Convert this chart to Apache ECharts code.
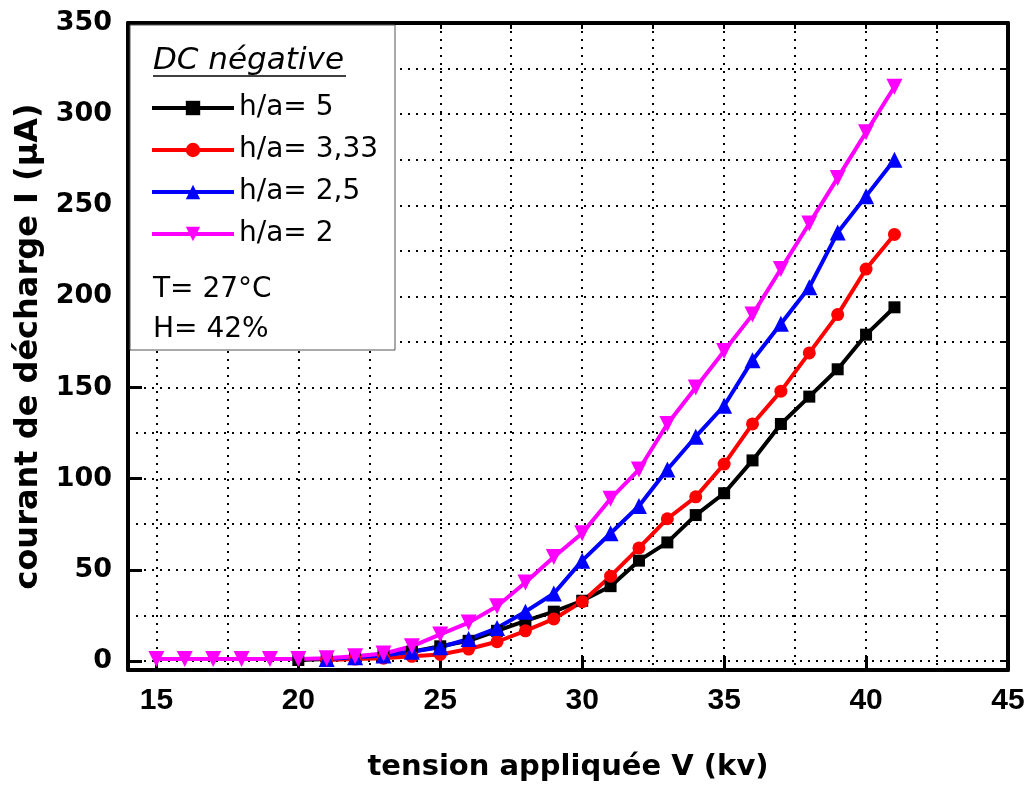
<!DOCTYPE html>
<html><head><meta charset="utf-8">
<script src="https://cdn.jsdelivr.net/npm/echarts@6/dist/echarts.min.js"></script>
<style>html,body{margin:0;padding:0;background:#fff}#c{width:1030px;height:787px}</style>
</head><body><div id="c"></div>
<script>
// Applied voltage (kV)
const voltage = [15,16,17,18,19,20,21,22,23,24,25,26,27,28,29,30,31,32,33,34,35,36,37,38,39,40,41];
// Discharge current (µA) per h/a ratio (null = not measured)
const ha5   = [null,null,null,null,null,0.5,1,2,3.5,5,8,11,16.5,22,27,33,41,55,65,80,92,110,130,145,160,179,194];
const ha333 = [null,null,null,null,null,null,0.5,1,1.5,2.5,3.5,6.5,10.5,16.5,23,32.5,46.5,62,78,90,108,130,148,169,190,215,234];
const ha25  = [null,null,null,null,null,null,1,2,3,5,7.5,12,18,27,37,55,70,85,105,123,140,165,185,205,235,255,275];
const ha2   = [1,1,1,1,1,1,1.5,2.5,4,8,14.5,21,30,43,57,70,89,105,130,150,170,190,215,240,265,290,315];

const seriesNames = ['h/a= 5','h/a= 3,33','h/a= 2,5','h/a= 2'];
const xMajor = [15,20,25,30,35,40,45];
const xMinor = [15,17.5,20,22.5,25,27.5,30,32.5,35,37.5,40,42.5];
const yMajor = [0,50,100,150,200,250,300,350];
const yMinor = [0,25,50,75,100,125,150,175,200,225,250,275,300,325];

function pairs(arr){
  const out = [];
  arr.forEach((v,i)=>{ if(v!==null) out.push([voltage[i], v]); });
  return out;
}

const chart = echarts.init(document.getElementById('c'), null, {renderer:'canvas'});
const dotted = {type:[2,6], color:'#000', width:2};
const mkSeries = (name, data, color, symbol, rot, size) => ({
  name, type:'line', data: pairs(data), xAxisIndex:0, yAxisIndex:0,
  symbol, symbolRotate: rot, symbolSize: size,
  lineStyle:{color, width:4}, itemStyle:{color}, z: 3
});

chart.setOption({
  animation:false,
  backgroundColor:'#fff',
  grid:{left:128, right:22, top:23, bottom:115},
  xAxis:[
    {type:'value', position:'bottom', min:14, max:45,
     name:'tension appliquée V (kv)', nameLocation:'middle', nameGap:83,
     nameTextStyle:{fontFamily:'DejaVu Sans', fontWeight:'bold', fontSize:29, color:'#000'},
     axisLine:{onZero:false, lineStyle:{color:'#000', width:4}},
     axisTick:{customValues:xMajor, inside:true, length:14, lineStyle:{color:'#000', width:3}},
     axisLabel:{customValues:xMajor, margin:16, fontFamily:'Liberation Sans', fontWeight:'bold', fontSize:30, color:'#000'},
     splitLine:{show:false}},
    {type:'value', position:'top', min:14, max:45,
     axisLine:{onZero:false, lineStyle:{color:'#000', width:4}},
     axisTick:{customValues:xMinor, inside:true, length:6, lineStyle:{color:'#000', width:2}},
     axisLabel:{show:false},
     splitLine:{show:true, lineStyle:dotted}}
  ],
  yAxis:[
    {type:'value', position:'left', min:-5, max:350,
     name:'courant de décharge I (µA)', nameLocation:'middle', nameGap:82,
     nameTextStyle:{fontFamily:'DejaVu Sans', fontWeight:'bold', fontSize:32, color:'#000'},
     axisLine:{onZero:false, lineStyle:{color:'#000', width:4}},
     axisTick:{customValues:yMajor, inside:true, length:14, lineStyle:{color:'#000', width:3}},
     axisLabel:{customValues:yMajor, margin:16, fontFamily:'DejaVu Sans', fontWeight:'bold', fontSize:27, color:'#000'},
     splitLine:{show:false}},
    {type:'value', position:'right', min:-5, max:350,
     axisLine:{onZero:false, lineStyle:{color:'#000', width:4}},
     axisTick:{customValues:yMinor, inside:true, length:6, lineStyle:{color:'#000', width:2}},
     axisLabel:{show:false},
     splitLine:{show:true, lineStyle:dotted}}
  ],
  legend:{
    orient:'vertical', left:145, top:88, z:20,
    itemWidth:82, itemHeight:18, itemGap:12,
    lineStyle:{width:4},
    textStyle:{fontFamily:'DejaVu Sans', fontSize:28, color:'#000', lineHeight:30},
    data: seriesNames
  },
  graphic:[
    {type:'rect', z:5, shape:{x:130, y:25, width:265, height:325},
     style:{fill:'#fff', stroke:'#555', lineWidth:1}},
    {type:'text', z:20, x:153, y:61,
     style:{text:'DC négative', fontFamily:'DejaVu Sans', fontStyle:'italic', fontSize:31, fill:'#000', verticalAlign:'middle'}},
    {type:'line', z:20, shape:{x1:153, y1:76, x2:346, y2:76}, style:{stroke:'#000', lineWidth:1.5}},
    {type:'text', z:20, x:153, y:290,
     style:{text:'T= 27°C', fontFamily:'DejaVu Sans', fontSize:28, fill:'#000', verticalAlign:'middle'}},
    {type:'text', z:20, x:153, y:330,
     style:{text:'H= 42%', fontFamily:'DejaVu Sans', fontSize:28, fill:'#000', verticalAlign:'middle'}}
  ],
  series:[
    mkSeries(seriesNames[0], ha5,   '#000000', 'rect', 0, 12),
    mkSeries(seriesNames[1], ha333, '#ff0000', 'circle', 0, 13),
    mkSeries(seriesNames[2], ha25,  '#0000ff', 'triangle', 0, 16),
    mkSeries(seriesNames[3], ha2,   '#ff00ff', 'triangle', 180, 16)
  ]
});
</script>
</body></html>
